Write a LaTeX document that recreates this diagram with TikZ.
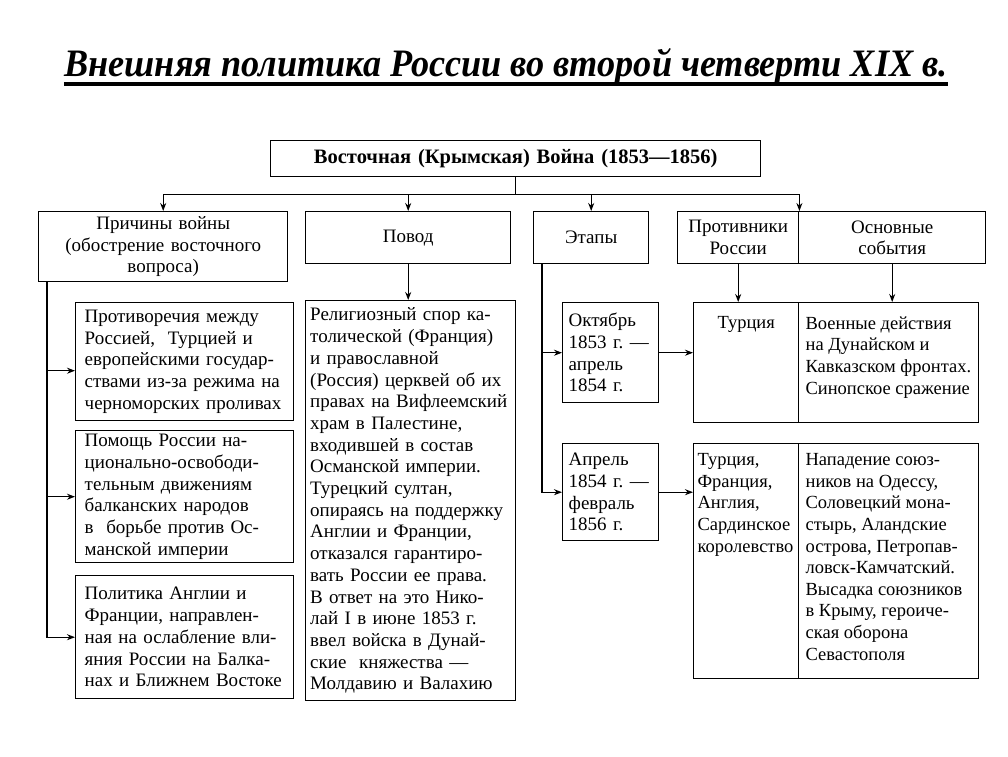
\documentclass[tikz,border=0pt]{standalone}
\usepackage{fontspec}
\setmainfont{Liberation Serif}
\usepackage{graphicx}
\usetikzlibrary{arrows.meta,positioning}
\frenchspacing

\begin{document}
\begin{tikzpicture}[
    x = 1pt, y = -1pt, % pixel grid, y going down
    > = {Stealth[length=8pt,width=6pt]}, % arrow head style
    line width = 1.2pt, % line style
    ]

    \tikzset{
    box/.style = {draw = black, line width = 1.4pt, anchor = north west,
        inner xsep = 9pt, inner ysep = 0pt, align = left,
        font = \fontsize{19}{21.7}\selectfont},
    head/.style = {box, align = center},
    cell/.style = {draw = black, line width = 1.4pt, anchor = north west, inner sep = 0pt},
    celltext/.style = {inner sep = 0pt, align = left,
        font = \fontsize{18.5}{21.6}\selectfont}
    }

    \path[use as bounding box] (0,0) rectangle (1008,756);

    % title
    \node[anchor = base, inner sep = 0pt] (title) at (506,76)
        {\resizebox{883pt}{28pt}{\bfseries\itshape Внешняя политика России во второй четверти XIX в.}};
    \draw[line width = 3.8pt] ([yshift=-8pt]title.base west) -- ([yshift=-8pt]title.base east);

    % top row
    \node[head, text width = 472, minimum height = 36,
        font = \fontsize{20.5}{22}\selectfont\bfseries] (war) at (270,140)
        {Восточная (Крымская) Война (1853—1856)};
    \node[head, text width = 231, minimum height = 70] (cause) at (38,211)
        {Причины войны\\(обострение восточного\\вопроса)};
    \node[head, text width = 187, minimum height = 52] (pretext) at (305,211) {Повод};
    \node[head, text width = 97, minimum height = 52] (stages) at (533,211) {Этапы};
    \node[head, text width = 107, minimum height = 52, inner xsep = 7pt] (foes) at (677,211)
        {Противники\\России};
    \node[head, text width = 169, minimum height = 52] (events) at (798,211)
        {Основные\\события};

    % causes
    \node[box, text width = 200, minimum height = 118] (c1) at (75,302)
        {Противоречия между\\Россией,\ \ Турцией и\\европейскими государ-\\ствами из-за режима на\\черноморских проливах};
    \node[box, text width = 200, minimum height = 132] (c2) at (75,430)
        {Помощь России на-\\ционально-освободи-\\тельным движениям\\балканских народов\\в\ \ борьбе против Ос-\\манской империи};
    \node[box, text width = 200, minimum height = 123] (c3) at (75,575)
        {Политика Англии и\\Франции, направлен-\\ная на ослабление вли-\\яния России на Балка-\\нах и Ближнем Востоке};

    % pretext
    \node[box, text width = 201, minimum height = 400, inner xsep = 4.5pt] (pb) at (305,300)
        {Религиозный спор ка-\\толической (Франция)\\и православной\\(Россия) церквей об их\\правах на Вифлеемский\\храм в Палестине,\\входившей в состав\\Османской империи.\\Турецкий султан,\\опираясь на поддержку\\Англии и Франции,\\отказался гарантиро-\\вать России ее права.\\В ответ на это Нико-\\лай I в июне 1853 г.\\ввел войска в Дунай-\\ские\ \ княжества —\\Молдавию и Валахию};

    % stages
    \node[box, text width = 84, minimum height = 100, inner xsep = 6pt] (st1) at (562,302)
        {Октябрь\\1853 г. —\\апрель\\1854 г.};
    \node[box, text width = 84, minimum height = 97, inner xsep = 6pt] (st2) at (562,443)
        {Апрель\\1854 г. —\\февраль\\1856 г.};

    % table: enemies and events
    \node[cell, minimum width = 105, minimum height = 120] (f1) at (693,302) {};
    \node[cell, minimum width = 180, minimum height = 120] (e1) at (798,302) {};
    \node[cell, minimum width = 105, minimum height = 235] (f2) at (693,443) {};
    \node[cell, minimum width = 180, minimum height = 235] (e2) at (798,443) {};

    \node[celltext, anchor = north] (f1t) at ([yshift=-14pt]f1.north) {Турция};
    \node[celltext, anchor = north west] (e1t) at ([shift={(7pt,-14pt)}]e1.north west)
        {Военные действия\\на Дунайском и\\Кавказском фронтах.\\Синопское сражение};
    \node[celltext, anchor = north west] (f2t) at ([shift={(4pt,-10pt)}]f2.north west)
        {Турция,\\Франция,\\Англия,\\Сардинское\\королевство};
    \node[celltext, anchor = north west] (e2t) at ([shift={(7pt,-10pt)}]e2.north west)
        {Нападение союз-\\ников на Одессу,\\Соловецкий мона-\\стырь, Аландские\\острова, Петропав-\\ловск-Камчатский.\\Высадка союзников\\в Крыму, героиче-\\ская оборона\\Севастополя};

    % connectors
    \coordinate (bus) at ([yshift=-17pt]war.south);
    \draw (war.south) -- (bus);
    \draw (cause.north |- bus) -- (foes.north east |- bus);
    \foreach \n in {cause.north, pretext.north, stages.north, foes.north east}
        \draw[->] (\n |- bus) -- (\n);

    \coordinate (lf) at ([xshift=9pt]cause.south west);
    \draw[->] (lf) |- (c3.west);
    \draw[->] (lf |- c1.west) ++(0,9) -- ([yshift=-9pt]c1.west);
    \draw[->] (lf |- c2.west) -- (c2.west);

    \draw[->] (pretext.south) -- (pretext.south |- pb.north);

    \coordinate (sf) at ([xshift=9pt]stages.south west);
    \draw[->] (sf) |- (st2.west);
    \draw[->] (sf |- st1.west) -- (st1.west);
    \draw[->] (st1.east) -- (st1.east -| f1.west);
    \draw[->] (st2.east) -- (st2.east -| f2.west);

    \draw[->] (foes.south) -- (foes.south |- f1.north);
    \draw[->] (events.south) -- (events.south |- e1.north);
\end{tikzpicture}
\end{document}
